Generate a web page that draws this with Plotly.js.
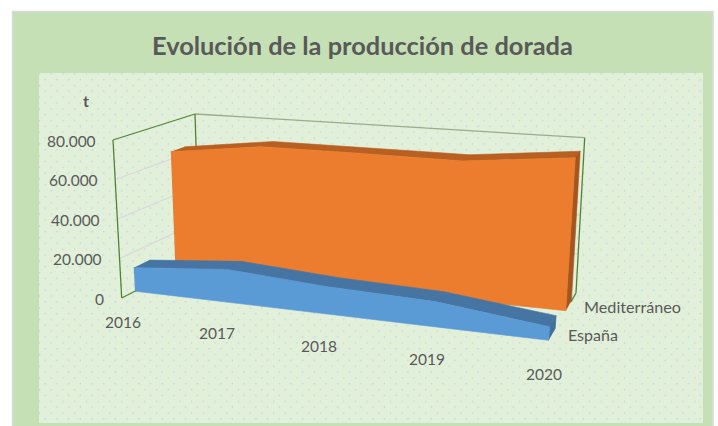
<!DOCTYPE html>
<html>
<head>
<meta charset="utf-8">
<script src="https://cdn.plot.ly/plotly-3.0.1.min.js"></script>
<style>html,body{margin:0;padding:0;background:#fff;overflow:hidden}#chart{width:718px;height:426px}</style>
</head>
<body>
<div id="chart"></div>
<script>
// ---- data ----
const years = ['2016', '2017', '2018', '2019', '2020'];
const mediterraneo = [64000, 70200, 70400, 70250, 75800];
const espana = [12100, 16500, 13400, 12000, 6300];
const valueTicks = [0, 20000, 40000, 60000, 80000];
const valueTickLabels = ['0', '20.000', '40.000', '60.000', '80.000'];
const titleText = 'Evolución de la producción de dorada';
const unitText = 't';

// ---- oblique 3D frame (screen position of the box corners) ----
const VMAX = 80000;
const box = {
  flb: [121.7, 298], frb: [543, 350], blb: [199.7, 258], brb: [576, 293],
  flt: [113, 140],   frt: [556, 175], blt: [195, 114],   brt: [584.7, 137.7]
};
function lerp(a, b, k) { return [a[0] + (b[0] - a[0]) * k, a[1] + (b[1] - a[1]) * k]; }
function project(t, v, d) {
  const u = t / (years.length - 1);
  const s = u / (1 + 0.15 * (1 - u));
  const w = v / VMAX;
  const bf = lerp(box.flb, box.frb, s), bb = lerp(box.blb, box.brb, s);
  const tf = lerp(box.flt, box.frt, s), tb = lerp(box.blt, box.brt, s);
  return lerp(lerp(bf, bb, d), lerp(tf, tb, d), w);
}
function poly(points, color, name) {
  return { type: 'scatter', mode: 'lines', x: points.map(p => p[0]), y: points.map(p => p[1]),
    fill: 'toself', fillcolor: color, line: { width: 0.6, color: color }, hoverinfo: 'skip', name: name, showlegend: false };
}
function seg(a, b, color, width) {
  return { type: 'scatter', mode: 'lines', x: [a[0], b[0]], y: [a[1], b[1]],
    line: { color: color, width: width }, hoverinfo: 'skip', showlegend: false };
}
function ribbon(values, d0, d1, cFront, cTop, cSide, name) {
  const last = values.length - 1;
  const frontTop = values.map((v, i) => project(i, v, d0));
  const backTop = values.map((v, i) => project(i, v, d1));
  const frontBase = values.map((v, i) => project(i, 0, d0));
  return [
    poly(frontTop.concat(backTop.slice().reverse()), cTop, name + ' top'),
    poly([project(last, 0, d0), project(last, values[last], d0), project(last, values[last], d1), project(last, 0, d1)], cSide, name + ' side'),
    poly(frontTop.concat(frontBase.slice().reverse()), cFront, name)
  ];
}

const GREEN = '#548235', GRID = '#DAD5DF', TXT = '#595959';
const traces = [];
const lastI = years.length - 1;
valueTicks.slice(1, -1).forEach(v => {
  traces.push(seg(project(0, v, 0), project(0, v, 1), GRID, 1.2));
  traces.push(seg(project(0, v, 1), project(lastI, v, 1), GRID, 1.2));
});
traces.push(seg(project(0, VMAX, 1), project(lastI, VMAX, 1), '#9AAB8E', 1.3));
traces.push(seg(project(0, VMAX, 0), project(0, VMAX, 1), GREEN, 1.3));
traces.push(seg(project(0, 0, 0), project(0, VMAX, 0), GREEN, 1.3));
traces.push(seg(project(0, VMAX, 1), project(0, 0, 1), GREEN, 1.3));
traces.push(seg(project(0, 0, 0), project(0, 0, 1), GREEN, 1.3));
traces.push(seg(project(lastI, VMAX, 1), project(lastI, 0, 1), GREEN, 1.3));
traces.push(seg(project(lastI, 0, 0.85), project(lastI, 0, 1), GREEN, 1.3));
ribbon(mediterraneo, 0.69, 0.86, '#ED7D2E', '#B85F22', '#A5551E', 'Mediterráneo').forEach(t => traces.push(t));
ribbon(espana, 0.17, 0.37, '#5B9BD5', '#4675A3', '#3F6F9A', 'España').forEach(t => traces.push(t));

const annotations = [];
function label(text, x, y, size, anchor, bold) {
  annotations.push({ text: bold ? '<b>' + text + '</b>' : text, x: x, y: y, xref: 'x', yref: 'y', showarrow: false,
    xanchor: anchor, yanchor: 'middle', font: { family: 'Lato, sans-serif', size: size, color: TXT } });
}
valueTicks.forEach((v, i) => { const p = project(0, v, 0); label(valueTickLabels[i], p[0] - 15.5, p[1] + 0.5, 15.5, 'right'); });
years.forEach((y, i) => { const p = project(i, 0, 0); label(y, p[0] + 1, p[1] + 23.5, 15.5, 'center'); });
const pm = project(lastI, 0, 0.85), pe = project(lastI, 0, 0.37);
label('Mediterráneo', pm[0] + 11, pm[1] + 4.5, 16.2, 'left');
label('España', pe[0] + 11, pe[1] + 5.5, 16, 'left');
label(unitText, 86, 100, 16, 'center', true);
label(titleText, 362, 44.5, 25.4, 'center', true);

// dotted plot-area fill
const dots = "<svg xmlns='http://www.w3.org/2000/svg' width='664' height='350'><defs><pattern id='d' patternUnits='userSpaceOnUse' width='11.7' height='11.7'><circle cx='0.4' cy='0.7' r='0.9' fill='#BDD7EE'/><circle cx='6.25' cy='6.5' r='0.9' fill='#BDD7EE'/></pattern></defs><rect width='664' height='350' fill='#E2F0D9'/><rect width='664' height='350' fill='url(#d)'/></svg>";

const layout = {
  width: 718, height: 426, margin: { l: 0, r: 0, t: 0, b: 0 },
  paper_bgcolor: '#ffffff', plot_bgcolor: 'rgba(0,0,0,0)', showlegend: false,
  xaxis: { range: [0, 718], visible: false, fixedrange: true },
  yaxis: { range: [426, 0], visible: false, fixedrange: true },
  shapes: [
    { type: 'rect', layer: 'below', xref: 'x', yref: 'y', x0: 12.5, x1: 713, y0: 11.5, y1: 427, fillcolor: '#C5E0B4', line: { color: '#D9D9D9', width: 1.5 } }
  ],
  images: [
    { source: 'data:image/svg+xml;charset=utf-8,' + encodeURIComponent(dots), xref: 'x', yref: 'y', x: 39, y: 73, sizex: 664, sizey: 350, sizing: 'stretch', xanchor: 'left', yanchor: 'top', layer: 'below' }
  ],
  annotations: annotations
};
Plotly.newPlot('chart', traces, layout, { staticPlot: true, displayModeBar: false });
</script>
</body>
</html>
